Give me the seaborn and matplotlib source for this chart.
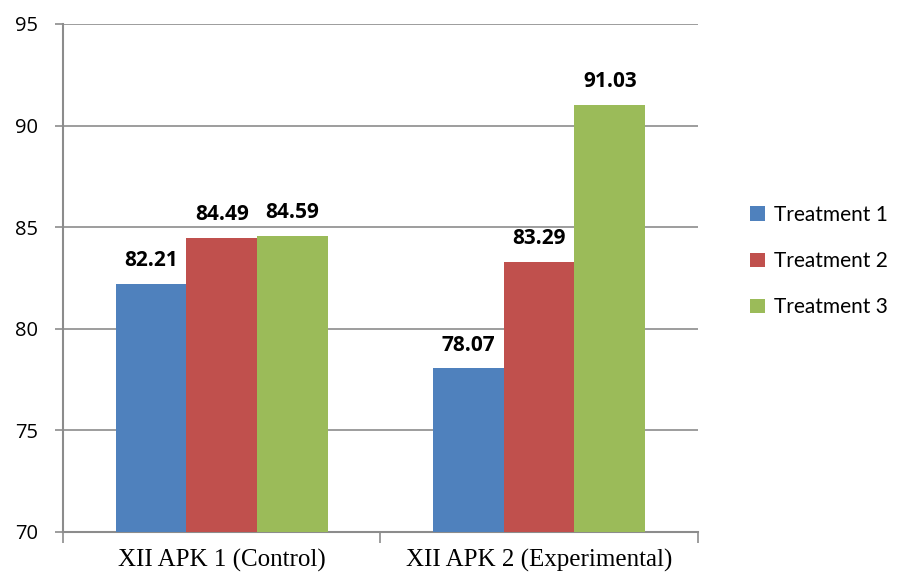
import pandas as pd
import seaborn as sns
import matplotlib.pyplot as plt
from matplotlib.ticker import FixedLocator

#Chart values
classes = ['XII APK 1 (Control)', 'XII APK 2 (Experimental)']
treatments = ['Treatment 1', 'Treatment 2', 'Treatment 3']
treatment1 = [82.21, 78.07]
treatment2 = [84.49, 83.29]
treatment3 = [84.59, 91.03]

rows = []
for t, vals in zip(treatments, [treatment1, treatment2, treatment3]):
    for c, v in zip(classes, vals):
        rows.append({'Class': c, 'Treatment': t, 'Score': v})
data = pd.DataFrame(rows)

colors = ['#4F81BD', '#C0504D', '#9BBB59']
grid_col = '#8C8C8C'

sns.set_style('white')
plt.rcParams['font.family'] = ['Open Sans', 'DejaVu Sans']
plt.rcParams['text.color'] = 'black'
plt.rcParams['xtick.color'] = 'black'
plt.rcParams['ytick.color'] = 'black'

fig = plt.figure(figsize=(8.98, 5.74), dpi=100)
ax = fig.add_axes([0.0702, 0.0732, 0.7068, 0.885])

sns.barplot(data=data, x='Class', y='Score', hue='Treatment', hue_order=treatments,
            palette=colors, width=0.668, saturation=1, ax=ax, legend=True,
            linewidth=0, zorder=3)

#Value labels
for cont in ax.containers:
    ax.bar_label(cont, fmt='%.2f', padding=9, fontsize=15, fontweight='bold',
                 color='black')

ax.set_ylim(70, 95)
ax.set_xlim(-0.5, 1.5)
ax.set_yticks([70, 75, 80, 85, 90, 95])
ax.yaxis.grid(True, color=grid_col, linewidth=1.2, zorder=0)
ax.set_axisbelow(True)

for side in ['top', 'right']:
    ax.spines[side].set_visible(False)
for side in ['left', 'bottom']:
    ax.spines[side].set_color(grid_col)
    ax.spines[side].set_linewidth(1.5)

ax.tick_params(axis='y', left=True, length=6, width=1.2, color=grid_col,
               labelcolor='black', labelsize=14.5, pad=12)
ax.tick_params(axis='x', which='major', bottom=False, length=0, pad=12,
               labelcolor='black')
ax.xaxis.set_minor_locator(FixedLocator([-0.5, 0.5, 1.5]))
ax.tick_params(axis='x', which='minor', bottom=True, length=8, width=1.2,
               color=grid_col)
for lbl in ax.get_xticklabels():
    lbl.set_family(['Liberation Serif', 'DejaVu Serif'])
    lbl.set_fontsize(18)

ax.set_xlabel('')
ax.set_ylabel('')

ax.legend(loc='center left', bbox_to_anchor=(1.082, 0.533), frameon=False,
          borderaxespad=0, borderpad=0,
          handlelength=0.72, handleheight=0.72, labelspacing=1.25,
          handletextpad=0.45, prop={'family': ['Lato', 'DejaVu Sans'], 'size': 15})

plt.savefig('out.png', dpi=100)
